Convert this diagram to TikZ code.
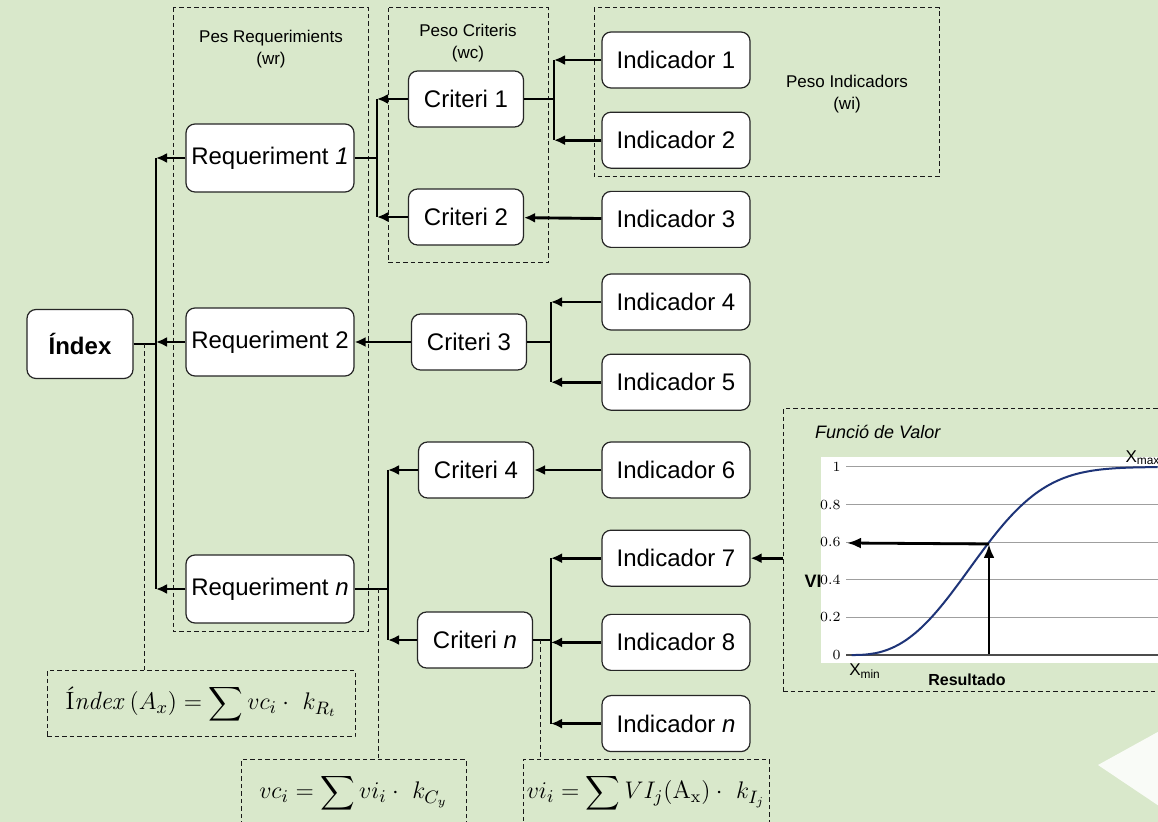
\documentclass[tikz,border=0pt]{standalone}
\usepackage{amsmath}
\usepackage{fontspec}
\setsansfont{Liberation Sans}
\definecolor{bggreen}{RGB}{217,232,203}
\definecolor{curveblue}{RGB}{30,52,120}
\tikzstyle{groupbox} = [draw=black!90, dash pattern=on 2.25pt off 1.5pt, line width=0.5pt]
\tikzstyle{helper} = [draw=black!90, dash pattern=on 2.25pt off 1.5pt, line width=0.5pt]
\tikzstyle{link} = [line width=1.45pt]
\tikzstyle{linkarrow} = [line width=1.45pt, -{Latex[length=5.5pt,width=5pt]}]
\usetikzlibrary{arrows.meta}
\usetikzlibrary{positioning}

\begin{document}
\begin{tikzpicture}[x=0.5pt,y=-0.5pt,
    box node/.style={draw=black!85,fill=white,rounded corners=4.5pt,line width=0.6pt,
      font=\sffamily\fontsize{12}{14}\selectfont,inner sep=0pt},
    req node/.style={box node,minimum width=84pt,minimum height=34pt},
    crit node/.style={box node,minimum width=57.5pt,minimum height=28pt},
    ind node/.style={box node,minimum width=74pt,minimum height=28pt},
    label node/.style={font=\sffamily\fontsize{8.5}{11}\selectfont,align=center},
    formula node/.style={groupbox,minimum height=33pt,inner sep=0pt,font=\fontsize{12.5}{15}\selectfont},
    tick node/.style={font=\fontsize{7}{8}\selectfont,anchor=east,inner sep=0pt}]

    \path[use as bounding box,fill=bggreen] (0,0) rectangle (1158,822);
    \clip (0,0) rectangle (1158,822);

    % weight groups
    \draw[groupbox] (173,8) rectangle (368,632);
    \draw[groupbox] (388,8) rectangle (548,263);
    \draw[groupbox] (594,8) rectangle (939,177);
    \node[label node] (LWR) at (271,49) {Pes Requerimients\\(wr)};
    \node[label node] (LWC) at (468,43) {Peso Criteris\\(wc)};
    \node[label node] (LWI) at (847,94) {Peso Indicadors\\(wi)};

    % tree
    \node[box node,minimum width=53pt,minimum height=34.5pt] (IDX) at (80,344) {\bfseries Índex};

    \node[req node] (R1) at (270,158) {Requeriment \textit{1}};
    \node[req node] (R2) at (270,342) {Requeriment 2};
    \node[req node] (RN) at (270,589) {Requeriment \textit{n}};

    \node[crit node] (C1) at (466,99) {Criteri 1};
    \node[crit node] (C2) at (466,217) {Criteri 2};
    \node[crit node] (C3) at (469,342) {Criteri 3};
    \node[crit node] (C4) at (476,470) {Criteri 4};
    \node[crit node] (CN) at (475,640) {Criteri \textit{n}};

    \node[ind node] (I1) at (676,60) {Indicador 1};
    \node[ind node] (I2) [below=11.5pt of I1] {Indicador 2};
    \node[ind node] (I3) [below=11pt of I2] {Indicador 3};
    \node[ind node] (I4) at (676,302) {Indicador 4};
    \node[ind node] (I5) [below=11.5pt of I4] {Indicador 5};
    \node[ind node] (I6) at (676,470) {Indicador 6};
    \node[ind node] (I7) [below=15.5pt of I6] {Indicador 7};
    \node[ind node] (I8) [below=13.5pt of I7] {Indicador 8};
    \node[ind node] (IN) [below=12pt of I8] {Indicador \textit{n}};

    % bus lines
    \coordinate (B0) at (156,0);
    \coordinate (B1) at (377,0);
    \coordinate (B2) at (554,0);
    \coordinate (B3) at (551,0);
    \coordinate (B4) at (388,0);
    \coordinate (B5) at (551,0);

    \draw[link] (IDX) -- (IDX -| B0);
    \draw[link] (R1 -| B0) -- (RN -| B0);
    \foreach \r in {R1,R2,RN}{\draw[linkarrow] (\r) -- (\r -| B0);}

    \draw[link] (R1) -- (R1 -| B1);
    \draw[link] (C1 -| B1) -- (C2 -| B1);
    \foreach \c in {C1,C2}{\draw[linkarrow] (\c) -- (\c -| B1);}

    \draw[link] (C1) -- (C1 -| B2);
    \draw[link] (I1 -| B2) -- (I2 -| B2);
    \foreach \i in {I1,I2}{\draw[linkarrow] (\i) -- (\i -| B2);}
    \draw[linkarrow] (I3) -- (C2);

    \draw[linkarrow] (C3) -- (R2);
    \draw[link] (C3) -- (C3 -| B3);
    \draw[link] (I4 -| B3) -- (I5 -| B3);
    \foreach \i in {I4,I5}{\draw[linkarrow] (\i) -- (\i -| B3);}

    \draw[link] (RN) -- (RN -| B4);
    \draw[link] (C4 -| B4) -- (CN -| B4);
    \foreach \c in {C4,CN}{\draw[linkarrow] (\c) -- (\c -| B4);}
    \draw[linkarrow] (I6) -- (C4);

    \draw[link] (CN) -- (CN -| B5);
    \draw[link] (I7 -| B5) -- (IN -| B5);
    \foreach \i in {I7,I8,IN}{\draw[linkarrow] (\i) -- (\i -| B5);}

    % formulas
    \node[formula node,minimum width=154pt] (F1) at (201,704)
      {$\displaystyle \text{Í}\mathit{ndex}\;(A_x) = \sum vc_i \cdot\ k_{R_t}$};
    \node[formula node,minimum width=112.5pt] (F2) at (353.5,793)
      {$\displaystyle vc_i = \sum vi_i \cdot\ k_{C_y}$};
    \node[formula node,minimum width=123pt] (F3) at (646,793)
      {$\displaystyle vi_i = \sum VI_j(\mathrm{A_x}) \cdot\ k_{I_j}$};
    \coordinate (D1) at (144,344);
    \coordinate (D2) at (378,589);
    \coordinate (D3) at (540,640);
    \draw[helper] (D1) -- (D1 |- F1.north);
    \draw[helper] (D2) -- (D2 |- F2.north);
    \draw[helper] (D3) -- (D3 |- F3.north);

    % value function
    \node[groupbox,minimum width=193.5pt,minimum height=141.5pt] (FV) at (976.5,550.5) {};
    \draw[linkarrow] (I7 -| FV.west) -- (I7);
    \node[font=\sffamily\itshape\fontsize{9}{10}\selectfont,anchor=west] (FVT) at (808,432) {Funció de Valor};
    \fill[white] (821,457) rectangle (1165,663);
    \foreach \v in {0.2,0.4,0.6,0.8,1}{\draw[gray!75,line width=0.5pt] (846,{655-188*\v}) -- (1165,{655-188*\v});}
    \draw[gray!60!black,line width=0.6pt] (846,655) -- (1165,655);
    \foreach \v/\t [count=\k] in {0/0,0.2/0.2,0.4/0.4,0.6/0.6,0.8/0.8,1/1}
      {\node[tick node] (T\k) at (841,{655-188*\v}) {\t};}
    \draw[curveblue,line width=1pt] plot[domain=0.002:1,samples=80,smooth]
      ({851+307*\x},{655-188*(1-exp(-(\x/0.465)^2.61))});
    \coordinate (P0) at (989,654);
    \coordinate (P1) at (989,544);
    \coordinate (P2) at (847,543);
    \draw[line width=1.4pt,-{Latex[length=7pt,width=5.5pt]}] (P1) -- (P2);
    \draw[line width=1.4pt,-{Latex[length=7pt,width=5.5pt]}] (P0) -- (P1);
    \node[font=\sffamily\bfseries\fontsize{9}{10}\selectfont,inner sep=0pt,anchor=east] (VI) at (822,581) {VI};
    \node[font=\sffamily\bfseries\fontsize{8}{10}\selectfont,inner sep=0pt] (RES) at (967,680) {Resultado};
    \node[font=\sffamily\fontsize{8.5}{10}\selectfont,inner sep=0pt] (XMIN) at (865,671) {X\textsubscript{min}};
    \node[font=\sffamily\fontsize{8.5}{10}\selectfont,inner sep=0pt] (XMAX) at (1143,458) {X\textsubscript{max}};

    % corner mark
    \fill[white,opacity=0.85] (1098,765) -- (1165,728) -- (1165,810) -- cycle;
\end{tikzpicture}
\end{document}
